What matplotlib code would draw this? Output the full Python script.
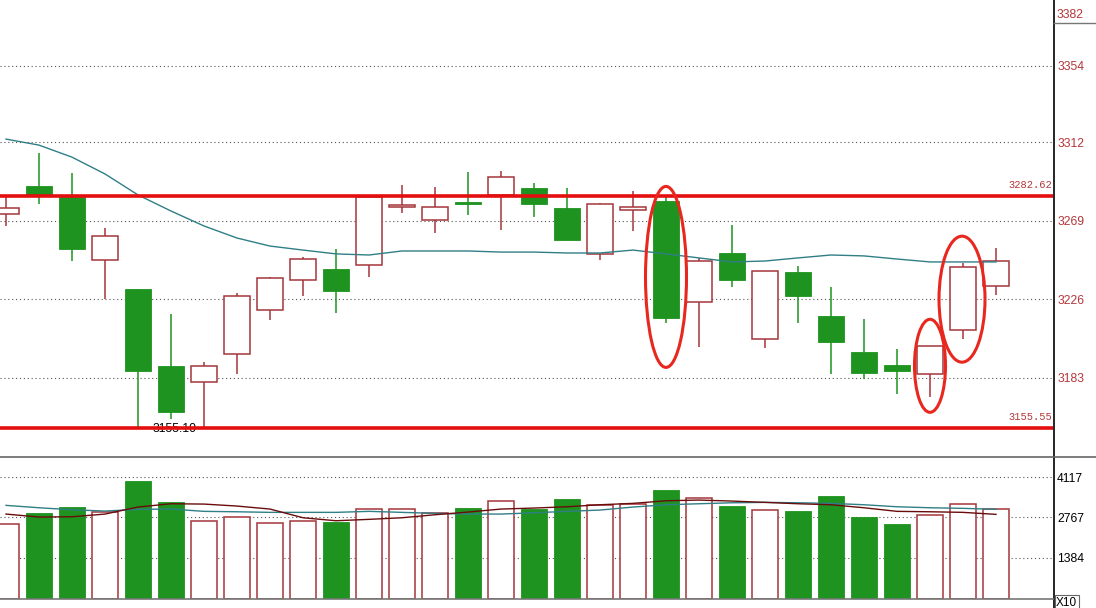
import matplotlib
matplotlib.use("Agg")
import matplotlib.pyplot as plt
from matplotlib.patches import Rectangle, Ellipse
from matplotlib.lines import Line2D
import numpy as np

# ---------------- data ----------------
opens  = [3272.8, 3288.1, 3282.1, 3247.4, 3231.7, 3189.5, 3180.6, 3195.9, 3220.0, 3236.4,
          3242.6, 3244.6, 3276.4, 3269.3, 3279.3, 3283.0, 3287.0, 3276.0, 3250.7, 3275.1,
          3280.1, 3224.4, 3251.4, 3204.1, 3241.0, 3216.9, 3197.2, 3190.1, 3184.9, 3209.1, 3233.2]
highs  = [3282.1, 3306.2, 3295.4, 3265.1, 3231.7, 3218.0, 3191.5, 3229.5, 3238.4, 3249.2,
          3253.6, 3282.8, 3288.6, 3287.5, 3295.8, 3296.3, 3289.7, 3287.0, 3278.8, 3285.4,
          3282.1, 3248.5, 3266.7, 3241.4, 3244.3, 3232.6, 3215.3, 3198.8, 3200.5, 3245.8, 3254.0]
lows   = [3266.2, 3278.2, 3247.2, 3226.0, 3155.10, 3160.3, 3156.3, 3185.1, 3214.9, 3228.0,
          3218.7, 3238.4, 3273.5, 3262.5, 3272.4, 3264.2, 3271.3, 3258.7, 3247.7, 3263.6,
          3213.2, 3200.1, 3233.0, 3199.5, 3213.2, 3185.3, 3182.6, 3174.2, 3172.7, 3204.5, 3228.6]
closes = [3276.0, 3282.6, 3253.8, 3260.5, 3186.9, 3164.5, 3189.3, 3227.9, 3237.5, 3247.9,
          3230.7, 3282.3, 3277.5, 3276.4, 3278.2, 3292.9, 3278.4, 3258.7, 3278.2, 3276.4,
          3216.0, 3246.9, 3236.8, 3241.4, 3228.0, 3202.8, 3185.8, 3187.0, 3200.5, 3243.6, 3246.9]
price_ma = [3313.8, 3310.5, 3303.9, 3294.7, 3283.2, 3274.4, 3266.2, 3259.6, 3255.2, 3253.0,
            3250.9, 3250.3, 3252.5, 3252.5, 3252.5, 3251.9, 3251.9, 3251.4, 3251.4, 3253.0,
            3250.9, 3248.7, 3246.5, 3247.0, 3248.7, 3250.3, 3249.8, 3248.1, 3246.5, 3246.5, 3246.5]

volumes = [2522, 2905, 3109, 2949, 3990, 3278, 2624, 2759, 2566, 2624,
           2600, 3031, 3031, 2915, 3075, 3302, 3041, 3380, 3187, 3221,
           3685, 3404, 3143, 2997, 2973, 3482, 2770, 2532, 2837, 3210, 3031]
vol_ma5 = [2871, 2770, 2780, 2871, 3109, 3221, 3210, 3143, 3041, 2746,
           2644, 2692, 2746, 2848, 2939, 3041, 3075, 3119, 3187, 3234,
           3322, 3346, 3312, 3268, 3221, 3187, 3085, 2963, 2949, 2929, 2861]
vol_ma10 = [3166, 3085, 3017, 2973, 3031, 3041, 2963, 2949, 2929, 2929,
            2929, 2963, 2929, 2895, 2871, 2871, 2915, 2963, 3007, 3109,
            3187, 3221, 3254, 3268, 3254, 3234, 3187, 3119, 3085, 3065, 3031]

price_ticks = [3183, 3226, 3269, 3312, 3354]
price_tick_labels = ["3183", "3226", "3269", "3312", "3354"]
vol_ticks = [1384, 2767, 4117]
vol_tick_labels = ["1384", "2767", "4117"]
resistance = 3282.62
support = 3155.55
low_label = 3155.10
top_label = "3382"

# ---------------- style ----------------
GREEN = "#1e931f"
RED_EDGE = "#a3363a"
LINE_RED = "#e40e0e"
TEAL = "#2f7f86"
DARKRED = "#6a0c0c"
LABEL_RED = "#b5373b"
ELL_RED = "#e8281e"

W, H = 1096, 608
fig = plt.figure(figsize=(W / 100, H / 100), dpi=100)
fig.patch.set_facecolor("white")

x_left_px, x_right_px = 0, 1053
def px(xp):  # horizontal pixel -> figure fraction
    return xp / W
def py(yp):  # vertical pixel (from top) -> figure fraction
    return 1 - yp / H

ax = fig.add_axes([px(0), py(456.7), px(1053), (456.7) / H])
axv = fig.add_axes([px(0), py(598.7), px(1053), (598.7 - 457.5) / H])

n = len(opens)
xs = np.arange(n)
step_px = 33.0
x0_px = 6.0
xlim = ((x_left_px - x0_px) / step_px, (x_right_px - x0_px) / step_px)

for a in (ax, axv):
    a.set_xlim(*xlim)
    for s in a.spines.values():
        s.set_visible(False)
    a.set_xticks([])
    a.set_facecolor("none")
    a.set_axisbelow(True)

# price y-range
ax.set_ylim(3139.8, 3390.0)
axv.set_ylim(0, 4790)

body_w = 0.8

# ---- candles ----
for i in range(n):
    o, h, l, c = opens[i], highs[i], lows[i], closes[i]
    up = c >= o
    col = RED_EDGE if up else GREEN
    ax.vlines(i, l, h, color=col, lw=1.1, zorder=2)
    bottom = min(o, c)
    height = max(abs(c - o), 0.9)
    if up:
        ax.add_patch(Rectangle((i - body_w / 2, bottom), body_w, height,
                               facecolor="white", edgecolor=RED_EDGE, lw=1.1, zorder=3))
    else:
        ax.add_patch(Rectangle((i - body_w / 2, bottom), body_w, height,
                               facecolor=GREEN, edgecolor=GREEN, lw=0.6, zorder=3))

ax.plot(xs, price_ma, color=TEAL, lw=1.0, zorder=4)

ax.axhline(resistance, color=LINE_RED, lw=2.6, zorder=6)
ax.axhline(support, color=LINE_RED, lw=2.6, zorder=6)

ax.set_yticks(price_ticks)
ax.set_yticklabels(price_tick_labels)
ax.yaxis.tick_right()
ax.tick_params(axis="y", length=0, pad=3, labelsize=8.7, labelcolor=LABEL_RED)
for t in ax.get_yticklabels():
    t.set_fontfamily("Liberation Sans")
ax.grid(axis="y", linestyle=(0, (1, 2.5)), color="#555555", lw=0.8)

ax.text(xlim[1] - 0.03, resistance + 3.2, f"{resistance:.2f}", ha="right", va="bottom",
        fontsize=7.5, family="Liberation Mono", color=LABEL_RED, zorder=7)
ax.text(xlim[1] - 0.03, support + 3.2, f"{support:.2f}", ha="right", va="bottom",
        fontsize=7.5, family="Liberation Mono", color=LABEL_RED, zorder=7)
ax.text(4 + 1.1, low_label, f"{low_label:.2f}", ha="center", va="center",
        fontsize=8.7, family="Liberation Sans", color="black", zorder=5)

# ---- ellipses ----
ppx = (3390.0 - 3139.8) / 456.7  # price per pixel
ells = [(20, 3238.3, 41, 181), (28, 3189.6, 31, 93), (29, 3226.1, 46, 126)]
for ci, cy, wpx, hpx in ells:
    cx = ci + (0.0 if ci != 29 else -0.03)
    ax.add_patch(Ellipse((cx, cy), wpx / step_px, hpx * ppx, fill=False,
                         edgecolor=ELL_RED, lw=2.2, zorder=8))

# ---- volume ----
for i in range(n):
    up = closes[i] >= opens[i]
    if up:
        axv.add_patch(Rectangle((i - body_w / 2, 0), body_w, volumes[i],
                                facecolor="white", edgecolor=RED_EDGE, lw=1.1, zorder=3))
    else:
        axv.add_patch(Rectangle((i - body_w / 2, 0), body_w, volumes[i],
                                facecolor=GREEN, edgecolor=GREEN, lw=0.6, zorder=3))
axv.plot(xs, vol_ma10, color=TEAL, lw=1.0, zorder=4)
axv.plot(xs, vol_ma5, color=DARKRED, lw=1.0, zorder=4)

axv.set_yticks(vol_ticks)
axv.set_yticklabels(vol_tick_labels)
axv.yaxis.tick_right()
axv.tick_params(axis="y", length=0, pad=3, labelsize=8.7, labelcolor="black")
for t in axv.get_yticklabels():
    t.set_fontfamily("Liberation Sans")
axv.grid(axis="y", linestyle=(0, (1, 2.5)), color="#555555", lw=0.8)

# ---- frame lines ----
fig.add_artist(Line2D([px(1053.5), px(1053.5)], [0, 1], color="black", lw=1.2))
fig.add_artist(Line2D([0, 1], [py(456.7), py(456.7)], color="#666666", lw=1.2))
fig.add_artist(Line2D([0, px(1053)], [py(599), py(599)], color="#777777", lw=1.2))
fig.add_artist(Line2D([px(1053.5), 1], [py(23.3), py(23.3)], color="#777777", lw=1.0))
fig.text(px(1057), py(15), top_label, ha="left", va="center", fontsize=8.7,
         family="Liberation Sans", color=LABEL_RED)
fig.text(px(1056), py(602.5), "X10", ha="left", va="center", fontsize=8.5,
         family="Liberation Sans", color="black",
         bbox=dict(boxstyle="square,pad=0.12", facecolor="white", edgecolor="#666666", lw=0.8))

fig.savefig("out.png", dpi=100, facecolor="white")
